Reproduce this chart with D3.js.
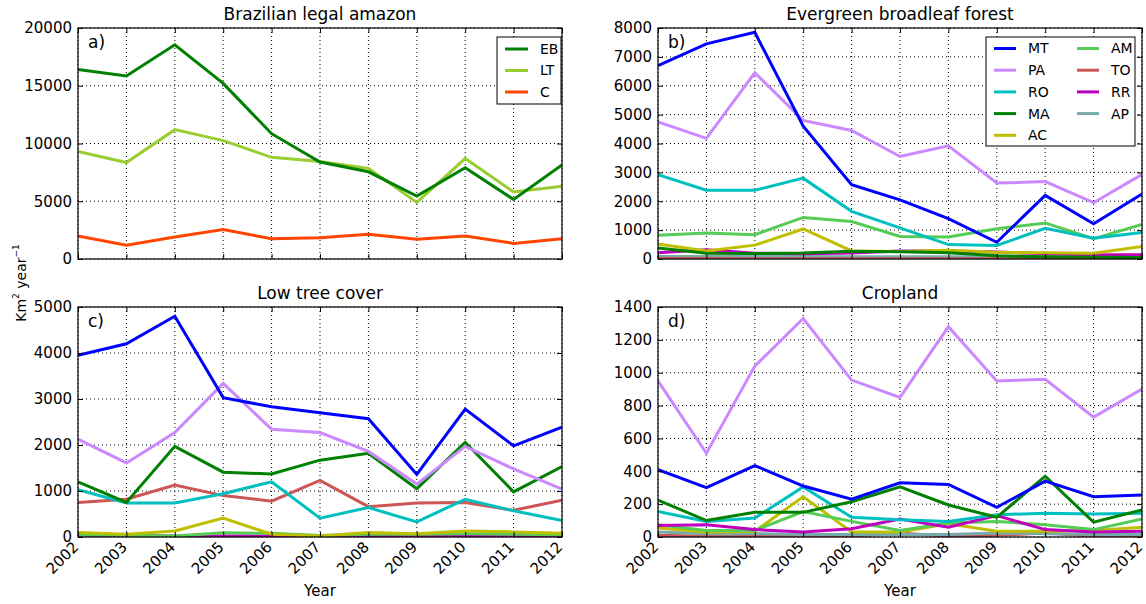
<!DOCTYPE html>
<html><head><meta charset="utf-8">
<script src="https://cdn.jsdelivr.net/npm/d3@7"></script>
<style>body{margin:0;background:#fff}svg{font-family:"DejaVu Sans",sans-serif}</style>
</head><body><svg id="c" width="1146" height="604"></svg>
<script>
const years = [2002,2003,2004,2005,2006,2007,2008,2009,2010,2011,2012];

// Panel a) Brazilian legal amazon
const aEB = [16400,15850,18550,15200,10850,8400,7550,5450,7900,5150,8150];
const aLT = [9300,8350,11200,10250,8800,8450,7850,4900,8700,5800,6300];
const aC  = [2000,1200,1900,2550,1750,1850,2150,1700,2000,1350,1750];

// Panel b) Evergreen broadleaf forest
const bMT = [6700,7450,7850,4600,2570,2050,1400,580,2200,1220,2250];
const bPA = [4750,4180,6450,4800,4450,3550,3920,2630,2680,1950,2930];
const bRO = [2920,2380,2380,2800,1650,1080,500,470,1060,720,920];
const bMA = [380,200,190,210,270,250,220,110,80,60,50];
const bAC = [520,280,480,1040,280,260,300,230,220,200,430];
const bAM = [820,900,840,1440,1300,780,760,1050,1250,700,1200];
const bTO = [20,20,10,10,10,10,10,5,5,5,5];
const bRR = [220,320,200,180,210,280,280,240,180,150,150];
const bAP = [90,90,90,90,80,80,80,70,70,70,70];

// Panel c) Low tree cover
const cMT = [3950,4200,4800,3030,2830,2700,2570,1360,2780,1980,2390];
const cPA = [2130,1610,2270,3340,2340,2270,1860,1150,1970,1480,1040];
const cRO = [1030,740,740,940,1200,410,640,330,820,570,360];
const cMA = [1200,750,1970,1410,1370,1670,1820,1050,2060,980,1530];
const cAC = [100,60,130,410,60,20,100,70,130,110,80];
const cAM = [40,40,20,90,80,30,60,60,70,60,50];
const cTO = [750,820,1130,900,780,1230,660,740,750,580,800];
const cRR = [30,30,20,20,20,20,20,20,20,20,20];
const cAP = [10,10,10,10,10,10,10,10,10,10,10];

// Panel d) Cropland
const dMT = [410,300,435,310,230,330,320,180,340,245,255];
const dPA = [950,510,1040,1330,955,850,1280,950,960,730,900];
const dRO = [155,95,115,305,120,105,95,135,145,140,145];
const dMA = [225,100,150,150,215,305,195,120,370,90,165];
const dAC = [55,30,35,245,30,30,80,35,35,40,60];
const dAM = [75,40,40,155,95,40,85,95,75,45,110];
const dTO = [10,5,5,5,5,25,5,10,25,5,5];
const dRR = [70,75,45,30,50,110,60,130,45,30,35];
const dAP = [30,20,20,15,15,15,15,25,20,15,15];

const aTicks = [0,5000,10000,15000,20000];
const bTicks = [0,1000,2000,3000,4000,5000,6000,7000,8000];
const cTicks = [0,1000,2000,3000,4000,5000];
const dTicks = [0,200,400,600,800,1000,1200,1400];

const col = {EB:"#008000",LT:"#9acd32",C:"#ff4500",
  MT:"#0000ff",PA:"#cc88ff",RO:"#00bfbf",MA:"#008000",AC:"#bfbf00",
  AM:"#55cc55",TO:"#cc5555",RR:"#bf00bf",AP:"#77abab"};

const panels = [
  {title:"Brazilian legal amazon",label:"a)",x0:78,x1:562,y0:28,y1:259,ticks:aTicks,max:20000,xlab:false,
   series:[["C",aC],["LT",aLT],["EB",aEB]]},
  {title:"Evergreen broadleaf forest",label:"b)",x0:658,x1:1142,y0:28,y1:259,ticks:bTicks,max:8000,xlab:false,
   series:[["AP",bAP],["TO",bTO],["AM",bAM],["RR",bRR],["AC",bAC],["MA",bMA],["RO",bRO],["PA",bPA],["MT",bMT]]},
  {title:"Low tree cover",label:"c)",x0:78,x1:562,y0:307,y1:537,ticks:cTicks,max:5000,xlab:true,
   series:[["AP",cAP],["RR",cRR],["AM",cAM],["AC",cAC],["TO",cTO],["RO",cRO],["MA",cMA],["PA",cPA],["MT",cMT]]},
  {title:"Cropland",label:"d)",x0:658,x1:1142,y0:307,y1:537,ticks:dTicks,max:1400,xlab:true,
   series:[["TO",dTO],["AP",dAP],["AC",dAC],["AM",dAM],["RR",dRR],["RO",dRO],["MA",dMA],["MT",dMT],["PA",dPA]]}
];

const svg = d3.select("#c");

panels.forEach(p => {
  const x = d3.scaleLinear().domain([2002,2012]).range([p.x0,p.x1]);
  const y = d3.scaleLinear().domain([0,p.max]).range([p.y1,p.y0]);
  const g = svg.append("g");
  const clipId = "clip"+p.label[0];
  svg.append("clipPath").attr("id",clipId).append("rect")
    .attr("x",p.x0).attr("y",p.y0).attr("width",p.x1-p.x0).attr("height",p.y1-p.y0);

  // grid
  g.append("g").selectAll("line").data(years).join("line")
    .attr("x1",d=>x(d)).attr("x2",d=>x(d)).attr("y1",p.y0).attr("y2",p.y1)
    .attr("stroke","#000").attr("stroke-width",1).attr("stroke-dasharray","1,3");
  g.append("g").selectAll("line").data(p.ticks).join("line")
    .attr("y1",d=>y(d)).attr("y2",d=>y(d)).attr("x1",p.x0).attr("x2",p.x1)
    .attr("stroke","#000").attr("stroke-width",1).attr("stroke-dasharray","1,3");

  // lines
  const line = d3.line().x((d,i)=>x(years[i])).y(d=>y(d));
  g.append("g").attr("clip-path",`url(#${clipId})`).selectAll("path").data(p.series).join("path")
    .attr("d",d=>line(d[1])).attr("fill","none").attr("stroke",d=>col[d[0]])
    .attr("stroke-width",3).attr("stroke-linejoin","miter");

  // axes
  const yAx = d3.axisLeft(y).tickValues(p.ticks).tickSize(-5).tickPadding(6).tickFormat(d3.format("d"));
  const yAxR = d3.axisRight(y).tickValues(p.ticks).tickSize(-5).tickFormat("");
  const xAx = d3.axisBottom(x).tickValues(years).tickSize(-5).tickFormat(d3.format("d"));
  const xAxT = d3.axisTop(x).tickValues(years).tickSize(-5).tickFormat("");
  const ya = g.append("g").attr("transform",`translate(${p.x0},0)`).call(yAx);
  g.append("g").attr("transform",`translate(${p.x1},0)`).call(yAxR);
  const xa = g.append("g").attr("transform",`translate(0,${p.y1})`).call(xAx);
  g.append("g").attr("transform",`translate(0,${p.y0})`).call(xAxT);
  g.selectAll(".domain").remove();
  g.selectAll(".tick line").attr("stroke","#000");
  ya.selectAll("text").attr("font-size",15).attr("fill","#000").attr("font-family","DejaVu Sans");
  if (p.xlab) {
    xa.selectAll("text").attr("font-size",15).attr("fill","#000").attr("font-family","DejaVu Sans")
      .attr("text-anchor","end").attr("dy",null).attr("y",0)
      .attr("transform","translate(1,11) rotate(-45)");
    g.append("text").attr("x",(p.x0+p.x1)/2).attr("y",596).attr("text-anchor","middle")
      .attr("font-size",15).text("Year");
  } else {
    xa.selectAll("text").remove();
  }

  // frame
  g.append("rect").attr("x",p.x0).attr("y",p.y0).attr("width",p.x1-p.x0).attr("height",p.y1-p.y0)
    .attr("fill","none").attr("stroke","#000").attr("stroke-width",1.2);

  // title & label
  g.append("text").attr("x",(p.x0+p.x1)/2).attr("y",p.y0-8).attr("text-anchor","middle")
    .attr("font-size",17).text(p.title);
  g.append("text").attr("x",p.x0+10).attr("y",p.y0+20).attr("font-size",17).text(p.label);
});

// legend a
const la = svg.append("g");
la.append("rect").attr("x",497).attr("y",37).attr("width",64).attr("height",67)
  .attr("fill","#fff").attr("stroke","#000").attr("stroke-width",1);
const legA = ["EB","LT","C"];
la.selectAll("line").data(legA).join("line")
  .attr("x1",505).attr("x2",528).attr("y1",(d,i)=>49+i*21.5).attr("y2",(d,i)=>49+i*21.5)
  .attr("stroke",d=>col[d]).attr("stroke-width",3);
la.selectAll("text").data(legA).join("text")
  .attr("x",540).attr("y",(d,i)=>49+i*21.5).attr("dy","0.35em").attr("font-size",14).text(d=>d);

// legend b
const lb = svg.append("g");
lb.append("rect").attr("x",986).attr("y",37).attr("width",149).attr("height",109)
  .attr("fill","#fff").attr("stroke","#000").attr("stroke-width",1);
const legB = ["MT","PA","RO","MA","AC","AM","TO","RR","AP"];
legB.forEach((k,i)=>{
  const c = i<5?0:1, r = i<5?i:i-5;
  const lx = c===0?994:1077, tx = c===0?1028:1111, yy = 48.5+r*21.7;
  lb.append("line").attr("x1",lx).attr("x2",lx+22).attr("y1",yy).attr("y2",yy)
    .attr("stroke",col[k]).attr("stroke-width",3);
  lb.append("text").attr("x",tx).attr("y",yy).attr("dy","0.35em").attr("font-size",14).text(k);
});

// y label
const yl = svg.append("text").attr("transform","translate(26,283) rotate(-90)")
  .attr("text-anchor","middle").attr("font-size",14);
yl.append("tspan").text("Km");
yl.append("tspan").attr("font-size",9).attr("dy",-7).text("2");
yl.append("tspan").attr("dy",7).text(" year");
yl.append("tspan").attr("font-size",9).attr("dy",-7).text("−1");
</script></body></html>
